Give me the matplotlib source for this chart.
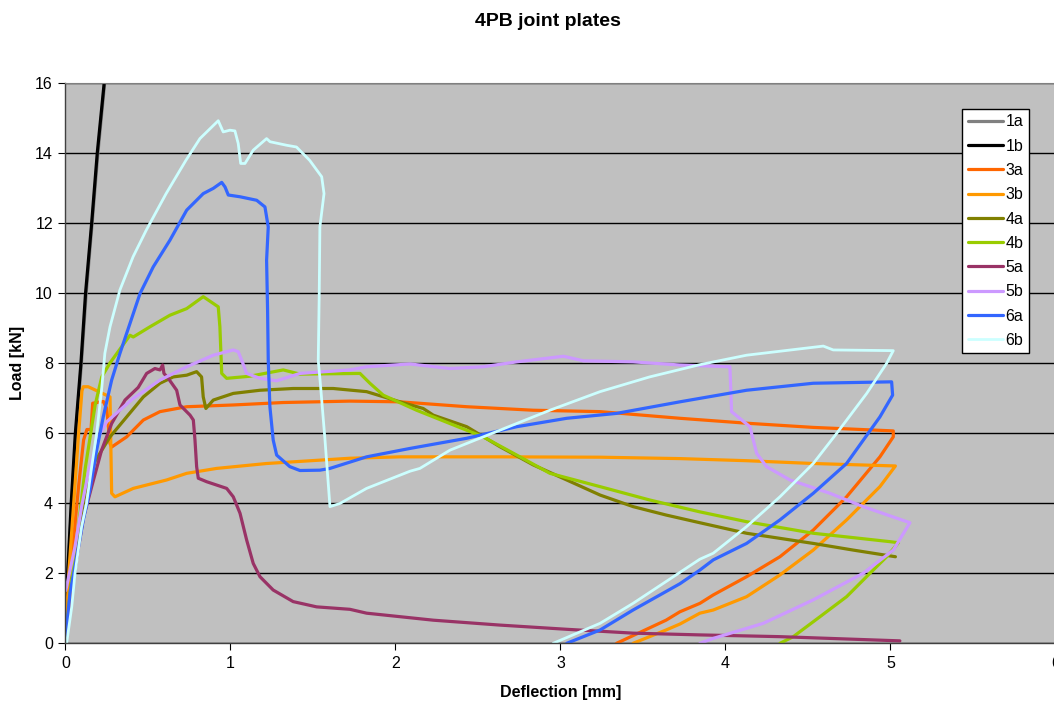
import matplotlib
matplotlib.use("Agg")
import matplotlib.pyplot as plt

plt.rcParams['font.family'] = ['Liberation Sans', 'DejaVu Sans']

# Load-deflection curves of the four-point bending tests (deflection in mm, load in kN)
labels = ["1a", "1b", "3a", "3b", "4a", "4b", "5a", "5b", "6a", "6b"]
colors = ["#808080", "#000000", "#FF6600", "#FF9900", "#808000",
          "#99CC00", "#993366", "#CC99FF", "#3366FF", "#CCFFFF"]

x_1a = [0.0, 0.012, 0.022, 0.038, 0.064, 0.097, 0.126, 0.162, 0.197, 0.238, 0.26]
y_1a = [0.0, 1.8, 2.6, 4.0, 6.0, 8.0, 10.0, 12.0, 14.0, 16.0, 17.0]

x_1b = [0.0, 0.01, 0.02, 0.035, 0.06, 0.094, 0.122, 0.159, 0.193, 0.235, 0.257]
y_1b = [0.0, 1.8, 2.6, 4.0, 6.0, 8.0, 10.0, 12.0, 14.0, 16.0, 17.0]

x_3a = [0.0, 0.02, 0.05, 0.08, 0.11, 0.13, 0.155, 0.165, 0.23, 0.25, 0.27, 0.28,
        0.371, 0.472, 0.573, 0.735, 1.017, 1.32, 1.724, 2.027, 2.432, 2.835, 3.24,
        3.724, 4.128, 4.532, 5.017, 5.017, 4.936, 4.734, 4.532, 4.33, 4.128,
        3.926, 3.845, 3.724, 3.64, 3.34]
y_3a = [0.0, 1.5, 3.0, 4.5, 5.8, 6.1, 6.1, 6.85, 6.9, 6.7, 5.7, 5.6,
        5.89, 6.37, 6.61, 6.75, 6.8, 6.87, 6.91, 6.89, 6.75, 6.65, 6.61,
        6.42, 6.28, 6.16, 6.06, 5.89, 5.32, 4.18, 3.23, 2.47, 1.9,
        1.38, 1.14, 0.9, 0.66, 0.0]

x_3b = [0.0, 0.02, 0.05, 0.08, 0.1, 0.108, 0.138, 0.27, 0.28, 0.3, 0.411, 0.613,
        0.735, 0.916, 1.219, 1.724, 2.027, 2.633, 3.24, 3.724, 4.128, 4.532, 5.03,
        4.936, 4.734, 4.532, 4.33, 4.128, 3.926, 3.845, 3.724, 3.64, 3.44]
y_3b = [0.0, 2.0, 4.0, 6.0, 7.2, 7.32, 7.32, 7.03, 4.28, 4.18, 4.42, 4.66,
        4.85, 4.99, 5.13, 5.28, 5.32, 5.32, 5.31, 5.27, 5.21, 5.13, 5.06,
        4.47, 3.52, 2.66, 1.95, 1.33, 0.95, 0.86, 0.55, 0.38, 0.0]

x_4a = [0.0, 0.03, 0.07, 0.12, 0.18, 0.27, 0.371, 0.472, 0.573, 0.653, 0.735, 0.795,
        0.825, 0.835, 0.851, 0.896, 1.017, 1.179, 1.38, 1.623, 1.825, 2.027, 2.168,
        2.229, 2.432, 2.633, 2.835, 3.038, 3.24, 3.44, 3.64, 3.845, 4.128, 4.532,
        4.774, 5.03]
y_4a = [0.0, 1.5, 3.0, 4.3, 5.2, 5.89, 6.46, 7.03, 7.42, 7.6, 7.65, 7.75,
        7.6, 7.03, 6.7, 6.94, 7.13, 7.22, 7.27, 7.27, 7.18, 6.89, 6.7,
        6.51, 6.18, 5.61, 5.09, 4.66, 4.23, 3.9, 3.66, 3.44, 3.14, 2.85,
        2.66, 2.47]

x_4b = [0.0, 0.03, 0.07, 0.12, 0.18, 0.22, 0.27, 0.29, 0.391, 0.411, 0.512, 0.633,
        0.735, 0.835, 0.926, 0.936, 0.947, 0.977, 1.118, 1.32, 1.421, 1.785, 1.845,
        1.926, 2.128, 2.33, 2.532, 2.735, 2.936, 3.24, 3.54, 3.845, 4.128, 4.532,
        4.997, 5.048, 4.977, 4.876, 4.734, 4.573, 4.411, 4.33]
y_4b = [0.0, 1.5, 3.0, 5.0, 6.8, 7.6, 8.0, 8.13, 8.79, 8.74, 9.03, 9.36,
        9.55, 9.89, 9.6, 9.03, 7.7, 7.56, 7.62, 7.8, 7.68, 7.7, 7.42,
        7.08, 6.65, 6.27, 5.89, 5.37, 4.85, 4.47, 4.09, 3.75, 3.47, 3.14,
        2.9, 2.87, 2.47, 2.0, 1.33, 0.76, 0.19, 0.0]

x_5a = [0.0, 0.03, 0.07, 0.11, 0.159, 0.219, 0.28, 0.361, 0.441, 0.492, 0.542, 0.573,
        0.589, 0.597, 0.623, 0.674, 0.694, 0.755, 0.775, 0.785, 0.795, 0.805, 0.856,
        0.977, 1.017, 1.058, 1.098, 1.138, 1.179, 1.259, 1.38, 1.522, 1.724, 1.825,
        2.229, 2.633, 3.038, 3.44, 3.845, 4.33, 5.057]
y_5a = [0.0, 1.2, 2.5, 3.6, 4.47, 5.51, 6.27, 6.94, 7.3, 7.7, 7.84, 7.8,
        7.94, 7.7, 7.56, 7.22, 6.8, 6.51, 6.37, 5.8, 5.04, 4.71, 4.61,
        4.42, 4.18, 3.71, 2.95, 2.28, 1.9, 1.52, 1.19, 1.04, 0.97, 0.86,
        0.66, 0.52, 0.4, 0.29, 0.24, 0.19, 0.07]

x_5b = [0.0, 0.007, 0.058, 0.098, 0.138, 0.199, 0.25, 0.411, 0.573, 0.735, 0.896,
        1.017, 1.047, 1.068, 1.098, 1.179, 1.28, 1.421, 1.724, 1.825, 2.088, 2.33,
        2.532, 2.735, 3.018, 3.139, 3.44, 3.724, 4.027, 4.037, 4.148, 4.189, 4.249,
        4.391, 4.633, 4.835, 5.118, 5.017, 4.835, 4.532, 4.229, 3.926, 3.845]
y_5b = [1.5, 1.62, 2.76, 3.9, 4.85, 5.89, 6.32, 6.99, 7.51, 7.89, 8.22,
        8.37, 8.32, 8.08, 7.7, 7.56, 7.49, 7.7, 7.8, 7.89, 7.97, 7.84,
        7.89, 8.03, 8.19, 8.06, 8.03, 7.94, 7.89, 6.61, 6.18, 5.42, 5.04,
        4.66, 4.28, 3.9, 3.44, 2.66, 2.0, 1.24, 0.57, 0.14, 0.0]

x_6a = [0.0, 0.01, 0.027, 0.058, 0.108, 0.148, 0.189, 0.229, 0.28, 0.33, 0.452,
        0.532, 0.633, 0.735, 0.835, 0.896, 0.947, 0.967, 0.987, 1.058, 1.159, 1.209,
        1.229, 1.219, 1.225, 1.229, 1.239, 1.259, 1.28, 1.36, 1.421, 1.542, 1.603,
        1.825, 2.088, 2.432, 2.735, 3.038, 3.34, 3.724, 4.128, 4.532, 5.007, 5.013,
        4.936, 4.734, 4.532, 4.33, 4.128, 3.926, 3.845, 3.724, 3.44, 3.24, 3.038]
y_6a = [0.0, 0.58, 1.43, 2.19, 3.52, 4.37, 5.51, 6.46, 7.51, 8.27, 9.98,
        10.74, 11.5, 12.36, 12.83, 12.98, 13.15, 13.02, 12.79, 12.74, 12.64, 12.45,
        11.88, 10.93, 9.51, 8.08, 6.75, 5.8, 5.37, 5.04, 4.93, 4.94, 4.99,
        5.32, 5.56, 5.85, 6.18, 6.42, 6.56, 6.89, 7.22, 7.42, 7.46, 7.08,
        6.46, 5.13, 4.28, 3.52, 2.85, 2.38, 2.09, 1.7, 0.95, 0.38, 0.0]

x_6b = [0.007, 0.038, 0.058, 0.098, 0.128, 0.159, 0.189, 0.219, 0.239, 0.27, 0.33,
        0.41, 0.49, 0.61, 0.73, 0.815, 0.926, 0.956, 0.997, 1.027, 1.047, 1.062,
        1.088, 1.138, 1.219, 1.24, 1.34, 1.4, 1.48, 1.553, 1.567, 1.542, 1.538,
        1.532, 1.545, 1.573, 1.603, 1.664, 1.825, 2.088, 2.148, 2.33, 2.532, 2.936,
        3.24, 3.54, 3.845, 4.128, 4.593, 4.653, 5.017, 4.977, 4.856, 4.674, 4.532,
        4.33, 4.128, 3.926, 3.845, 3.44, 3.24, 2.956]
y_6b = [0.0, 1.04, 2.0, 3.33, 4.0, 5.04, 5.99, 7.23, 8.28, 9.03, 10.08,
        11.03, 11.79, 12.83, 13.78, 14.4, 14.91, 14.59, 14.64, 14.62, 14.26, 13.69,
        13.69, 14.07, 14.4, 14.31, 14.21, 14.16, 13.78, 13.31, 12.83, 11.88, 9.98,
        8.07, 7.4, 5.8, 3.9, 3.99, 4.42, 4.91, 4.99, 5.51, 5.89, 6.65,
        7.18, 7.6, 7.95, 8.22, 8.48, 8.37, 8.35, 7.99, 7.13, 5.99, 5.13,
        4.18, 3.33, 2.57, 2.4, 1.14, 0.57, 0.0]

series_x = [x_1a, x_1b, x_3a, x_3b, x_4a, x_4b, x_5a, x_5b, x_6a, x_6b]
series_y = [y_1a, y_1b, y_3a, y_3b, y_4a, y_4b, y_5a, y_5b, y_6a, y_6b]

x_ticks = [0, 1, 2, 3, 4, 5, 6]
y_ticks = [0, 2, 4, 6, 8, 10, 12, 14, 16]

fig = plt.figure(figsize=(10.54, 7.04), dpi=100)
ax = fig.add_axes([0.0621, 0.0862, 0.9393, 0.7966])
ax.set_facecolor("#C0C0C0")

for xs, ys, lab, col in zip(series_x, series_y, labels, colors):
    lw = 2.0 if lab == "6b" else 2.3
    ax.plot(xs, ys, color=col, lw=lw, label=lab, solid_joinstyle="round",
            solid_capstyle="round", clip_on=True)

ax.set_xlim(0, 6)
ax.set_ylim(0, 16)
ax.set_xticks(x_ticks)
ax.set_yticks(y_ticks)
ax.yaxis.grid(True, color="#000000", lw=1.0)
ax.set_axisbelow(True)
ax.tick_params(direction="out", length=5, width=0.8, colors="#000000",
               labelsize=11.5, pad=4)

for side in ["top", "right"]:
    ax.spines[side].set_color("#808080")
for side in ["left", "bottom"]:
    ax.spines[side].set_color("#404040")
    ax.spines[side].set_linewidth(1.0)

ax.set_xlabel("Deflection [mm]", fontsize=11.5, fontweight="bold")
ax.set_ylabel("Load [kN]", fontsize=11.5, fontweight="bold")
ax.xaxis.set_label_coords(0.5, -0.074)
ax.yaxis.set_label_coords(-0.041, 0.5)
fig.text(548 / 1054, 1 - 22 / 704, "4PB joint plates", ha="center", va="center",
         fontsize=14, fontweight="bold")

leg = ax.legend(loc="upper left", bbox_to_anchor=(0.906, 0.953), borderaxespad=0,
                frameon=True, fancybox=False, fontsize=11.5, handlelength=2.2,
                handletextpad=0.15, labelspacing=0.58, borderpad=0.35)
leg.get_frame().set_edgecolor("#000000")
leg.get_frame().set_facecolor("#FFFFFF")
leg.get_frame().set_linewidth(1.0)
leg.get_frame().set_alpha(1.0)

fig.savefig("out.png", dpi=100)
